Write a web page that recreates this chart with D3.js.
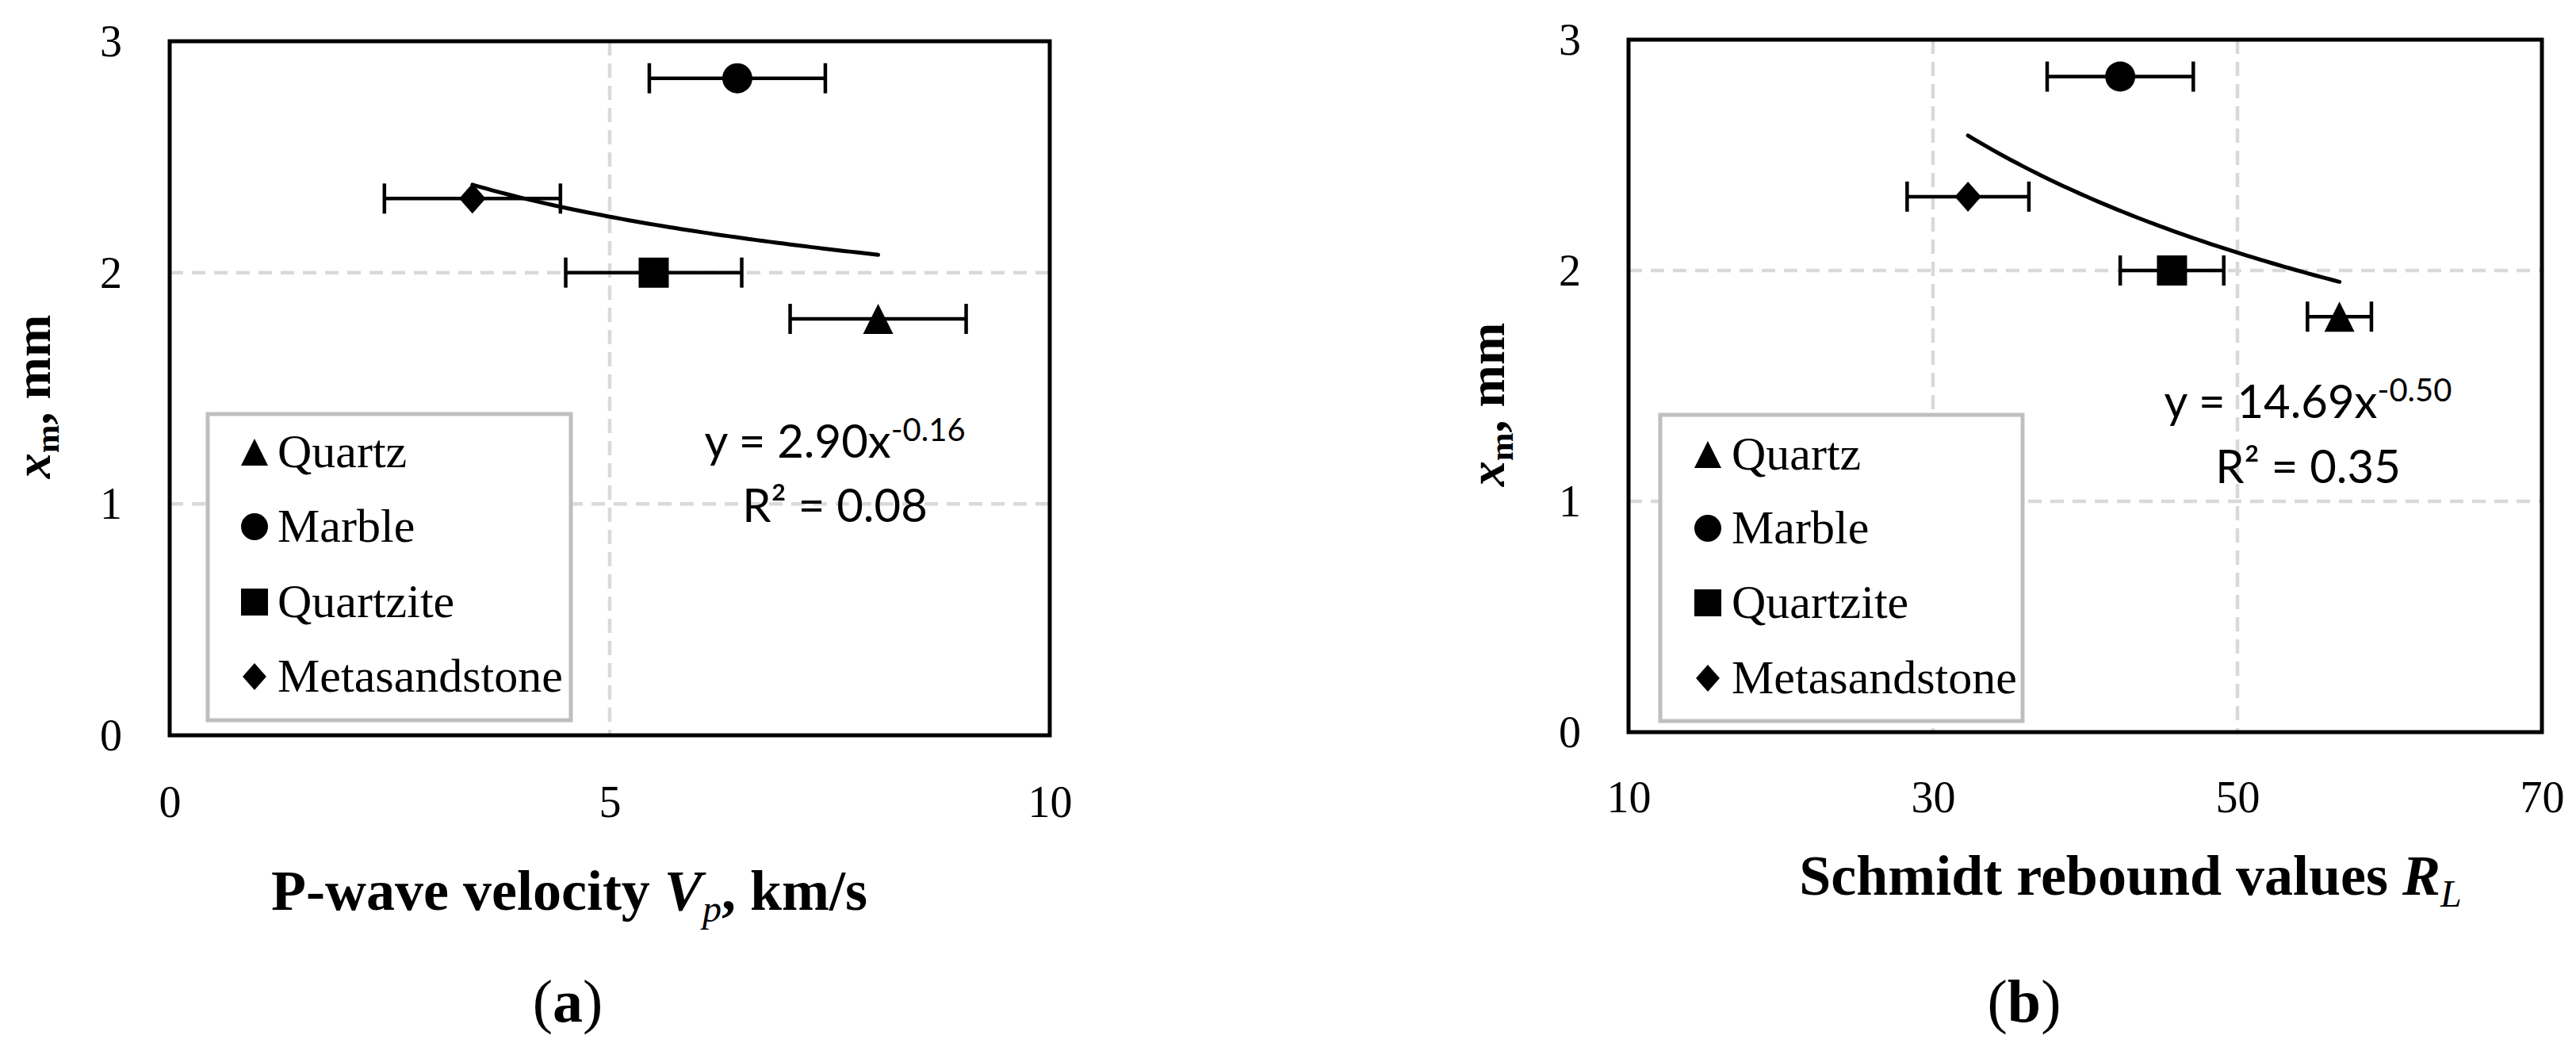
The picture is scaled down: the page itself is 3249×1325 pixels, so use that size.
<!DOCTYPE html>
<html><head><meta charset="utf-8">
<script src="https://cdn.jsdelivr.net/npm/d3@7"></script>
<style>body{margin:0;background:#fff} svg{display:block}</style>
</head><body>
<svg id="chart" width="3249" height="1325"></svg>
<script>
// ---------------- DATA ----------------
const materials   = ["Quartz", "Marble", "Quartzite", "Metasandstone"];
const markerTypes = ["triangle", "circle", "square", "diamond"];
const xmValues    = [1.80, 2.84, 2.00, 2.32];      // x_m, mm
const vpValues    = [8.05, 6.45, 5.50, 3.44];      // P-wave velocity, km/s
const vpErrors    = [1.00, 1.00, 1.00, 1.00];
const rlValues    = [56.7, 42.3, 45.7, 32.3];      // Schmidt rebound R_L
const rlErrors    = [2.1, 4.8, 3.4, 4.0];
const vpFit       = [2.90, -0.16];                 // y = a x^b
const rlFit       = [14.69, -0.50];
const vpFitText   = ["2.90", "-0.16", "0.08"];
const rlFitText   = ["14.69", "-0.50", "0.35"];
const vpTicks     = [0, 5, 10];
const rlTicks     = [10, 30, 50, 70];
const yTicks      = [0, 1, 2, 3];
const vpGrid      = [5];
const rlGrid      = [30, 50];
const yGrid       = [1, 2];

// ---------------- LAYOUT ----------------
const svg = d3.select("#chart");
const SERIF = "'Liberation Serif','Times New Roman',serif";
const SANS = "Lato,'Open Sans',sans-serif";

const panels = [
  {
    xValues: vpValues, xErrors: vpErrors, fit: vpFit, fitText: vpFitText,
    xDomain: [0, 10], xTicks: vpTicks, xGrid: vpGrid,
    left: 214, right: 1324, top: 52, bottom: 927,
    legend: {x: 262, y: 522, w: 458, h: 386, rows: [570, 664, 759, 853], mx: 321, tx: 350},
    eq: {cx: 1053, b1: 577, b2: 658},
    xlab: {cx: 718, base: 1147, main: "P-wave velocity ", sym: "V", sub: "p", tail: ", km/s"},
    ylab: {x: 63, cy: 500},
    cap: {cx: 716, letter: "a"},
    tickBase: 1030
  },
  {
    xValues: rlValues, xErrors: rlErrors, fit: rlFit, fitText: rlFitText,
    xDomain: [10, 70], xTicks: rlTicks, xGrid: rlGrid,
    left: 2054, right: 3206, top: 50, bottom: 923,
    legend: {x: 2094, y: 523, w: 457, h: 386, rows: [573, 666, 760, 855], mx: 2154, tx: 2184},
    eq: {cx: 2911, b1: 527, b2: 609},
    xlab: {cx: 2687, base: 1128, main: "Schmidt rebound values ", sym: "R", sub: "L", tail: ""},
    ylab: {x: 1897, cy: 510},
    cap: {cx: 2553, letter: "b"},
    tickBase: 1024
  }
];

function markerPath(type, s) {
  const h = s / 2;
  switch (type) {
    case "triangle": return `M0,${-h}L${h},${h}L${-h},${h}Z`;
    case "circle":   return `M${h},0A${h},${h} 0 1,1 ${-h},0A${h},${h} 0 1,1 ${h},0Z`;
    case "square":   return `M${-h},${-h}H${h}V${h}H${-h}Z`;
    case "diamond":  return `M0,${-h}L${h * 0.88},0L0,${h}L${-h * 0.88},0Z`;
  }
}

panels.forEach(p => {
  const x = d3.scaleLinear().domain(p.xDomain).range([p.left, p.right]);
  const y = d3.scaleLinear().domain([0, 3]).range([p.bottom, p.top]);
  const g = svg.append("g");

  // gridlines
  g.append("g").selectAll("line").data(yGrid).join("line")
    .attr("x1", p.left).attr("x2", p.right)
    .attr("y1", d => y(d)).attr("y2", d => y(d))
    .attr("stroke", "#d9d9d9").attr("stroke-width", 4.5).attr("stroke-dasharray", "17,11");
  g.append("g").selectAll("line").data(p.xGrid).join("line")
    .attr("x1", d => x(d)).attr("x2", d => x(d))
    .attr("y1", p.top).attr("y2", p.bottom)
    .attr("stroke", "#d9d9d9").attr("stroke-width", 4.5).attr("stroke-dasharray", "18,10");

  // axes (labels only)
  const xAxis = g.append("g").attr("transform", `translate(0,${p.bottom})`)
    .call(d3.axisBottom(x).tickValues(p.xTicks).tickSize(0).tickFormat(d3.format("d")));
  xAxis.select(".domain").remove();
  xAxis.selectAll("text").attr("dy", null).attr("y", p.tickBase - p.bottom)
    .attr("font-family", SERIF).attr("font-size", 56).attr("fill", "#000");
  const yAxis = g.append("g").attr("transform", `translate(${p.left},0)`)
    .call(d3.axisLeft(y).tickValues(yTicks).tickSize(0).tickFormat(d3.format("d")));
  yAxis.select(".domain").remove();
  yAxis.selectAll("text").attr("x", -60).attr("dy", "0.33em")
    .attr("font-family", SERIF).attr("font-size", 56).attr("fill", "#000");

  // legend
  const L = p.legend;
  g.append("rect").attr("x", L.x).attr("y", L.y).attr("width", L.w).attr("height", L.h)
    .attr("fill", "#fff").attr("stroke", "#bfbfbf").attr("stroke-width", 5);
  const lg = g.append("g").selectAll("g").data(materials).join("g")
    .attr("transform", (d, i) => `translate(0,${L.rows[i]})`);
  lg.append("path").attr("transform", `translate(${L.mx},0)`)
    .attr("d", (d, i) => markerPath(markerTypes[i], 34)).attr("fill", "#000");
  lg.append("text").attr("x", L.tx).attr("y", 19).text(d => d)
    .attr("font-family", SERIF).attr("font-size", 60).attr("fill", "#000");

  // frame
  g.append("rect").attr("x", p.left).attr("y", p.top)
    .attr("width", p.right - p.left).attr("height", p.bottom - p.top)
    .attr("fill", "none").attr("stroke", "#000").attr("stroke-width", 5);

  // error bars
  const pts = materials.map((m, i) => ({m, t: markerTypes[i], xv: p.xValues[i], e: p.xErrors[i], yv: xmValues[i]}));
  const eb = g.append("g").selectAll("g").data(pts).join("g");
  eb.append("line").attr("x1", d => x(d.xv - d.e)).attr("x2", d => x(d.xv + d.e))
    .attr("y1", d => y(d.yv)).attr("y2", d => y(d.yv)).attr("stroke", "#000").attr("stroke-width", 4.5);
  eb.append("line").attr("x1", d => x(d.xv - d.e)).attr("x2", d => x(d.xv - d.e))
    .attr("y1", d => y(d.yv) - 19).attr("y2", d => y(d.yv) + 19).attr("stroke", "#000").attr("stroke-width", 4.5);
  eb.append("line").attr("x1", d => x(d.xv + d.e)).attr("x2", d => x(d.xv + d.e))
    .attr("y1", d => y(d.yv) - 19).attr("y2", d => y(d.yv) + 19).attr("stroke", "#000").attr("stroke-width", 4.5);

  // markers
  g.append("g").selectAll("path").data(pts).join("path")
    .attr("transform", d => `translate(${x(d.xv)},${y(d.yv)})`)
    .attr("d", d => markerPath(d.t, 38)).attr("fill", "#000");

  // power trendline from fitted equation
  const [a, b] = p.fit;
  const [xmin, xmax] = d3.extent(p.xValues);
  const curve = d3.range(0, 61).map(k => xmin + (xmax - xmin) * k / 60).map(v => [v, a * Math.pow(v, b)]);
  g.append("path").datum(curve)
    .attr("d", d3.line().x(d => x(d[0])).y(d => y(d[1])))
    .attr("fill", "none").attr("stroke", "#000").attr("stroke-width", 5).attr("stroke-linecap", "round");

  // equation text
  const eq1 = g.append("text").attr("x", p.eq.cx).attr("y", p.eq.b1).attr("text-anchor", "middle")
    .attr("font-family", SANS).attr("font-size", 58).attr("fill", "#000");
  eq1.append("tspan").text(`y = ${p.fitText[0]}x`);
  eq1.append("tspan").attr("dy", -21).attr("font-size", 40).text(p.fitText[1]);
  const eq2 = g.append("text").attr("x", p.eq.cx).attr("y", p.eq.b2).attr("text-anchor", "middle")
    .attr("font-family", SANS).attr("font-size", 58).attr("fill", "#000");
  eq2.append("tspan").text("R²");
  eq2.append("tspan").text(` = ${p.fitText[2]}`);

  // x-axis title
  const xl = g.append("text").attr("x", p.xlab.cx).attr("y", p.xlab.base).attr("text-anchor", "middle")
    .attr("font-family", SERIF).attr("font-size", 72).attr("font-weight", "bold").attr("fill", "#000");
  xl.append("tspan").text(p.xlab.main);
  xl.append("tspan").attr("font-style", "italic").text(p.xlab.sym);
  xl.append("tspan").attr("font-style", "italic").attr("font-weight", "normal").attr("font-size", 48).attr("dy", 15).text(p.xlab.sub);
  if (p.xlab.tail) xl.append("tspan").attr("dy", -15).text(p.xlab.tail);

  // y-axis title
  const yl = g.append("text").attr("transform", `translate(${p.ylab.x},${p.ylab.cy}) rotate(-90)`)
    .attr("text-anchor", "middle").attr("font-family", SERIF).attr("font-size", 64)
    .attr("font-weight", "bold").attr("fill", "#000");
  yl.append("tspan").attr("font-style", "italic").text("x");
  yl.append("tspan").attr("font-size", 43).attr("dy", 11).text("m");
  yl.append("tspan").attr("dy", -11).text(", mm");

  // panel caption
  const cp = g.append("text").attr("x", p.cap.cx).attr("y", 1288).attr("text-anchor", "middle")
    .attr("font-family", SERIF).attr("font-size", 76).attr("fill", "#000");
  cp.append("tspan").text("(");
  cp.append("tspan").attr("font-weight", "bold").text(p.cap.letter);
  cp.append("tspan").text(")");
});
</script>
</body></html>
